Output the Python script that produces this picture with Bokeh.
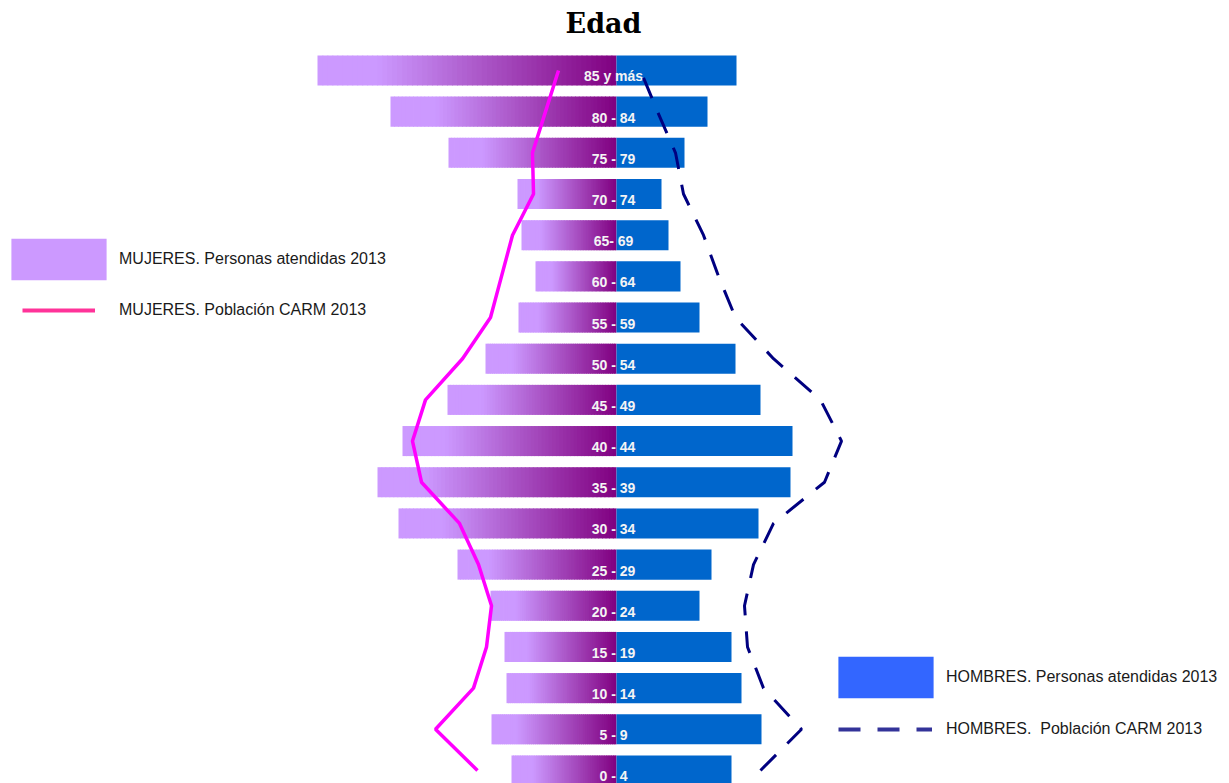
import numpy as np
from bokeh.plotting import figure
from bokeh.models import ColumnDataSource, Label, Legend, LegendItem, Range1d
from bokeh.core.properties import value
from bokeh.embed import file_html
from bokeh.resources import INLINE

# ---- data (bottom row first) ----
age_groups = ["0 - 4", "5 - 9", "10 - 14", "15 - 19", "20 - 24", "25 - 29",
              "30 - 34", "35 - 39", "40 - 44", "45 - 49", "50 - 54", "55 - 59",
              "60 - 64", "65- 69", "70 - 74", "75 - 79", "80 - 84", "85 y más"]
mujeres_atendidas = [105, 125, 110, 112, 126, 159, 218, 239, 214, 169, 131, 98,
                     81, 95, 99, 168, 226, 299]
hombres_atendidos = [115, 145, 125, 115, 83, 95, 142, 174, 176, 144, 119, 83,
                     64, 52, 45, 68, 91, 120]
mujeres_poblacion = [139, 181, 143, 130, 125, 138, 157, 195, 204, 191, 154, 126,
                     115, 104, 83, 84, 71, 58]
hombres_poblacion = [144, 185, 147, 131, 128, 137, 157, 208, 225, 204, 157, 119,
                     102, 87, 67, 59, 41, 24]

W, H = 1229, 783
p = figure(width=W, height=H, output_backend="svg", toolbar_location=None,
           x_range=Range1d(-616, 613), y_range=Range1d(-0.316, 18.699),
           x_axis_location=None, y_axis_location=None, min_border=0,
           outline_line_color=None)
p.grid.visible = False

rows = np.arange(len(age_groups))
bar_h = 0.73

# female bars with gradient (light at outer end -> dark purple at centre)
light = np.array([0xCC, 0x99, 0xFF], dtype=float)
dark = np.array([0x80, 0x00, 0x80], dtype=float)
n = 60
L, R, T, B, C = [], [], [], [], []
for r, v in zip(rows, mujeres_atendidas):
    edges = np.linspace(-v, 0, n + 1)
    for j in range(n):
        t = (j + 0.5) / n
        s = min(max((t - 0.2) / 0.8, 0.0), 1.0)
        c = light + (dark - light) * s
        L.append(edges[j])
        R.append(min(edges[j + 1] + 0.8, 0))
        T.append(r + bar_h / 2)
        B.append(r - bar_h / 2)
        C.append("#%02x%02x%02x" % tuple(int(round(x)) for x in c))
p.quad(left=L, right=R, top=T, bottom=B, fill_color=C, line_color=None)

# male bars
msrc = ColumnDataSource(dict(y=rows, v=hombres_atendidos))
p.hbar(y="y", left=0, right="v", height=bar_h, source=msrc,
       fill_color="#0066CC", line_color=None)

# age labels
lsrc = ColumnDataSource(dict(y=rows, t=age_groups))
p.text(x=0, y="y", text="t", source=lsrc, text_align="center",
       text_baseline="middle", x_offset=-3, y_offset=6,
       text_font=value("Liberation Sans"), text_font_style="bold",
       text_font_size="14px", text_color="#F4F4F4")

# population lines
p.line(x=-np.array(mujeres_poblacion), y=rows, line_color="#FF00FF",
       line_width=3.5)
p.line(x=np.array(hombres_poblacion), y=rows, line_color="#000080",
       line_width=3, line_dash="22 16")

# legend swatch renderers (one NaN point each: nothing drawn in the plot)
nan = [float("nan")]
r_fs = p.quad(left=nan, right=nan, top=nan, bottom=nan, fill_color="#CC99FF",
              line_color=None)
r_fl = p.line(x=nan, y=nan, line_color="#FF3399", line_width=4)
r_ms = p.quad(left=nan, right=nan, top=nan, bottom=nan, fill_color="#3366FF",
              line_color=None)
r_ml = p.line(x=nan, y=nan, line_color="#333399", line_width=4,
              line_dash="22 17")


def mk_legend(label, rend, loc, gw, gh, standoff):
    lg = Legend(items=[LegendItem(label=label, renderers=[rend])],
                location=loc, glyph_width=gw, glyph_height=gh,
                label_standoff=standoff, padding=0, margin=0, spacing=0,
                border_line_color=None, background_fill_alpha=0,
                label_text_font="Liberation Sans", label_text_font_size="16px",
                label_text_color="#1a1a1a", label_height=18)
    p.add_layout(lg)


mk_legend("MUJERES. Personas atendidas 2013", r_fs, (-1, 498), 119, 52, 1)
mk_legend("MUJERES. Población CARM 2013", r_fl, (22, 463), 73, 20, 24)
mk_legend("HOMBRES. Personas atendidas 2013", r_ms, (826, 80), 119, 52, 1)
mk_legend("HOMBRES.  Población CARM 2013", r_ml, (838, 44), 94, 20, 14)

p.add_layout(Label(x=603, y=760, x_units="screen", y_units="screen",
                   text="Edad", text_align="center",
                   text_baseline="alphabetic", text_font="DejaVu Serif",
                   text_font_style="bold", text_font_size="27px",
                   text_color="#000000"))

open("out.html", "w").write(file_html(p, INLINE))
